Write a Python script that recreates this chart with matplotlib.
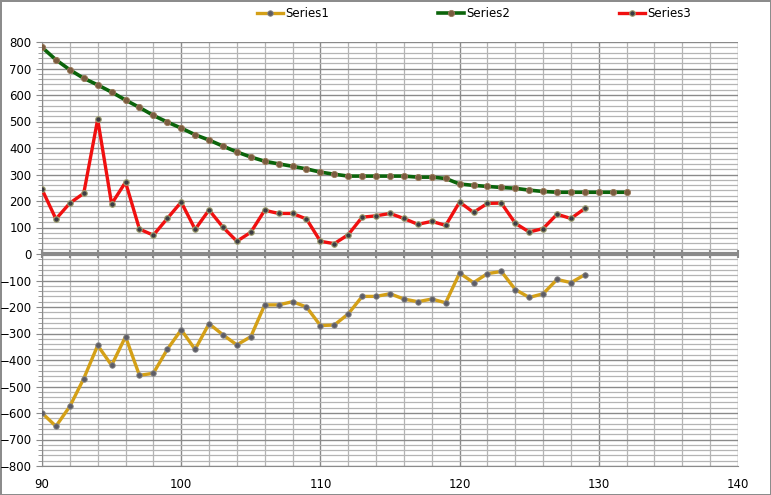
import numpy as np
import matplotlib
matplotlib.use("Agg")
import matplotlib.pyplot as plt

# x positions
x1 = list(range(90, 130))
x2 = list(range(90, 133))
x3 = list(range(90, 130))

series1 = [-600, -650, -575, -470, -345, -420, -312, -458, -450, -360,
           -286, -360, -263, -305, -343, -312, -192, -192, -180, -200,
           -270, -268, -226, -160, -160, -150, -170, -180, -170, -184,
           -72, -108, -74, -66, -134, -164, -150, -96, -108, -78]

series2 = [780, 733, 695, 663, 638, 611, 581, 553, 523, 498,
           475, 450, 430, 407, 385, 366, 350, 340, 331, 321,
           309, 301, 294, 294, 294, 294, 294, 290, 290, 285,
           264, 259, 255, 251, 248, 241, 236, 233, 233, 233,
           233, 233, 233]

series3 = [244, 132, 192, 229, 508, 189, 271, 94, 71, 134,
           196, 93, 166, 101, 48, 82, 165, 153, 153, 132,
           48, 39, 73, 139, 144, 153, 134, 112, 123, 108,
           196, 157, 191, 192, 116, 83, 96, 150, 134, 172]

fig = plt.figure(figsize=(7.71, 4.95), dpi=100)
fig.patch.set_edgecolor("#8c8c8c")
fig.patch.set_linewidth(2)
ax = fig.add_axes([42 / 771, 29 / 495, 696 / 771, 424 / 495])

ax.set_xlim(90, 140)
ax.set_ylim(-800, 800)
ax.set_xticks(np.arange(90, 141, 10))
ax.set_xticks(np.arange(90, 141, 2), minor=True)
ax.set_yticks(np.arange(-800, 801, 100))
ax.set_yticks(np.arange(-800, 801, 20), minor=True)

ax.grid(which="minor", color="#b4b4b4", lw=0.9)
ax.grid(which="major", color="#8a8a8a", lw=1.0)
ax.set_axisbelow(True)

for s in ["top", "right"]:
    ax.spines[s].set_visible(False)
ax.spines["left"].set_color("#8a8a8a")
ax.spines["bottom"].set_color("#8a8a8a")
ax.tick_params(axis="x", which="both", length=0, labelsize=8.5, pad=9)
ax.tick_params(axis="y", which="major", length=4, color="#8a8a8a", labelsize=8.5)
ax.tick_params(axis="y", which="minor", length=3, color="#8a8a8a")

# zero axis line with small ticks
ax.axhline(0, color="#8a8a8a", lw=3, zorder=2)
ax.plot(np.arange(90, 141, 2), np.zeros(26), ls="none", marker="|",
        ms=6, mew=1.5, color="#8a8a8a", zorder=2, clip_on=False)

ax.plot(x1, series1, color="#d4a017", lw=2.4, marker="o", ms=4,
        mfc="#5c5c66", mec="#8a8a8a", mew=0.6, label="Series1", zorder=3)
ax.plot(x2, series2, color="#0b640b", lw=2.6, marker="o", ms=4.5,
        mfc="#7a5c40", mec="#9a7a5a", mew=0.6, label="Series2", zorder=3)
ax.plot(x3, series3, color="#f01010", lw=2.4, marker="o", ms=4,
        mfc="#3c3c44", mec="#a0a070", mew=0.8, label="Series3", zorder=3)

fig.legend(loc="center", bbox_to_anchor=(0.615, 0.972), ncol=3, frameon=False,
           fontsize=8.5, handlelength=2.2, columnspacing=9.2, handletextpad=0.2)

fig.savefig("out.png", dpi=100)
